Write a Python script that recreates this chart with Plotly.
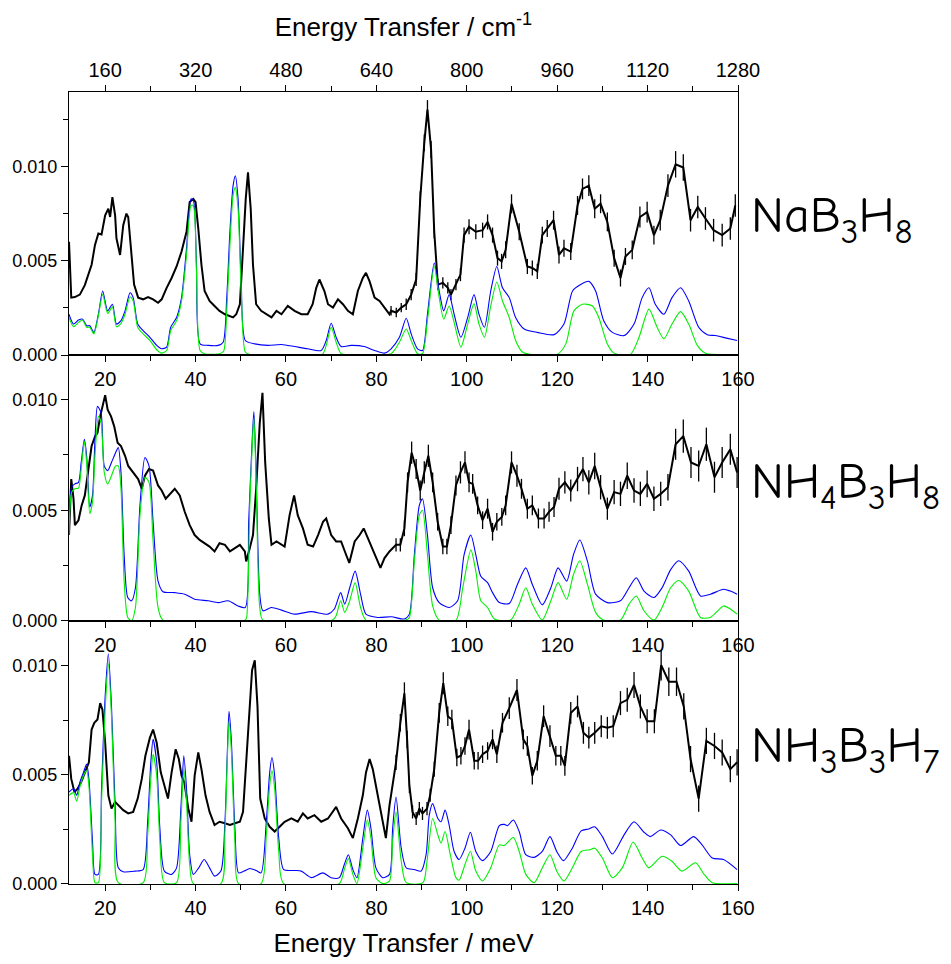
import numpy as np
import plotly.graph_objects as go

# ---------------- axes / tick data ----------------
mev_ticks = [20, 40, 60, 80, 100, 120, 140, 160]
mev_minor = [30, 50, 70, 90, 110, 130, 150]
cm_ticks = [160, 320, 480, 640, 800, 960, 1120, 1280]
cm_minor = [240, 400, 560, 720, 880, 1040, 1200]
y_ticks = [0.0, 0.005, 0.010]
y_minor = [0.0025, 0.0075, 0.0125]
labels = ["NaB<sub>3</sub>H<sub>8</sub>", "NH<sub>4</sub>B<sub>3</sub>H<sub>8</sub>",
          "NH<sub>3</sub>B<sub>3</sub>H<sub>7</sub>"]

# ---------------- NaB3H8 (values in 1e-3) ----------------
na_lo_x = [12.0, 12.5, 13.3, 14.4, 15.5, 16.3, 17.0, 17.75, 18.5, 19.2,
           20.0, 20.7, 21.1, 21.6, 22.2, 22.5, 23.3, 24.0, 24.7, 25.1,
           25.8, 26.4, 27.3, 28.4, 29.5, 30.6, 31.7, 32.5, 33.6, 34.7,
           35.8, 36.9, 38.0, 38.7, 39.5, 40.0, 40.6, 41.3, 42.0, 43.1,
           44.2, 45.3, 46.5, 47.6, 48.3, 49.0, 49.8, 50.5, 51.1, 51.6,
           52.2, 52.7, 53.4, 54.5, 55.6, 56.8, 57.9, 59.0, 60.4, 61.9,
           63.4, 64.8, 65.9, 66.7, 67.4, 68.5, 69.3, 70.4, 71.5, 72.6,
           73.7, 74.8, 75.9, 77.0, 77.7, 78.5, 79.6, 80.7, 81.8, 82.9]
na_lo_y = [6.0, 3.04, 3.07, 3.2, 3.7, 4.26, 4.78, 5.83, 6.44, 6.39,
           7.4, 7.75, 7.31, 8.36, 7.4, 6.18, 5.3, 6.88, 7.49, 7.31,
           5.13, 3.73, 3.04, 2.95, 3.07, 2.95, 2.77, 2.95, 3.56, 4.08,
           4.69, 5.48, 6.53, 8.1, 8.27, 8.1, 6.7, 4.78, 3.39, 2.86,
           2.6, 2.34, 2.16, 2.08, 1.99, 2.16, 2.69, 5.65, 8.27, 9.67,
           7.75, 4.78, 2.69, 2.34, 2.16, 1.99, 2.34, 2.16, 2.6, 2.34,
           2.16, 2.16, 2.69, 3.56, 4.0, 3.39, 2.69, 2.51, 2.95, 2.69,
           2.34, 2.16, 3.39, 4.08, 4.35, 3.9, 3.04, 2.86, 2.51, 2.16]
na_hi_x = [83.25, 84.4, 85.5, 86.6, 87.7, 88.8, 89.7, 90.6, 91.3, 92.1,
           92.8, 93.6, 94.7, 95.8, 96.5, 97.6, 98.6, 99.4, 100.5, 102.0,
           103.5, 104.6, 105.7, 106.8, 107.7, 108.6, 109.9, 111.6, 113.4, 114.5,
           115.6, 116.7, 117.8, 119.2, 120.4, 121.5, 123.0, 124.5, 125.6, 127.0,
           128.3, 129.6, 131.1, 132.6, 134.0, 135.1, 136.6, 138.3, 139.9, 141.4,
           142.8, 144.5, 146.2, 147.9, 149.5, 151.1, 152.8, 154.6, 156.5, 158.3,
           159.4]
na_hi_y = [2.34, 2.25, 2.51, 2.69, 3.2, 4.0, 8.27, 11.24, 13.0, 10.89,
           6.53, 3.73, 3.82, 3.56, 3.2, 3.73, 4.26, 6.35, 6.79, 6.53,
           6.61, 7.05, 6.35, 5.13, 4.96, 5.57, 8.01, 6.53, 4.69, 4.61,
           4.43, 6.35, 6.7, 7.14, 5.3, 5.65, 5.48, 7.92, 8.8, 8.97,
           7.75, 8.01, 7.05, 5.13, 4.08, 5.22, 5.57, 7.31, 7.57, 6.35,
           7.14, 8.97, 10.1, 9.93, 7.14, 7.84, 7.23, 6.61, 6.35, 6.7,
           7.92]
na_hi_err = [0.25, 0.25, 0.25, 0.3, 0.3, 0.35, 0.4, 0.45, 0.5, 0.45,
             0.35, 0.3, 0.3, 0.3, 0.3, 0.3, 0.35, 0.4, 0.4, 0.4,
             0.4, 0.4, 0.4, 0.4, 0.4, 0.45, 0.5, 0.45, 0.4, 0.4,
             0.4, 0.45, 0.45, 0.5, 0.45, 0.45, 0.45, 0.5, 0.55, 0.55,
             0.5, 0.5, 0.5, 0.45, 0.45, 0.45, 0.5, 0.55, 0.55, 0.5,
             0.55, 0.6, 0.7, 0.7, 0.6, 0.6, 0.6, 0.6, 0.6, 0.6,
             0.6]
na_blue_x = [12.0, 13.0, 14.1, 15.0, 15.9, 16.6, 17.5, 18.5, 19.45, 20.55,
             21.6, 22.5, 23.5, 24.4, 25.5, 26.2, 27.2, 28.4, 29.9, 31.4,
             32.5, 33.6, 34.5, 35.8, 36.9, 38.0, 39.0, 39.5, 40.2, 41.0,
             42.8, 45.0, 46.1, 46.9, 47.6, 48.3, 48.8, 49.4, 50.1, 51.0,
             53.1, 56.0, 59.0, 61.9, 64.8, 67.8, 68.9, 70.0, 71.1, 72.2,
             74.4, 77.3, 79.6, 81.8, 83.25, 85.1, 86.6, 87.7, 89.1, 90.2,
             91.3, 92.8, 93.9, 94.9, 96.1, 97.2, 98.7, 100.2, 101.6, 102.7,
             103.9, 105.3, 106.65, 107.9, 109.4, 110.8, 112.7, 115.6, 119.3, 121.5,
             123.4, 125.2, 127.0, 128.5, 130.3, 132.2, 134.8, 137.0, 138.8, 140.3,
             141.7, 143.6, 145.4, 147.3, 149.1, 151.3, 153.2, 155.0, 157.2, 159.8]
na_blue_y = [2.16, 1.64, 1.85, 1.9, 1.55, 1.55, 1.2, 2.16, 3.39, 2.34,
             2.69, 1.64, 1.82, 2.34, 3.3, 3.04, 1.64, 1.29, 0.94, 0.51,
             0.33, 0.42, 1.47, 1.99, 3.04, 5.65, 8.27, 8.2, 4.78, 0.59,
             0.51, 0.51, 0.68, 3.04, 6.53, 8.97, 9.49, 8.27, 3.9, 0.77,
             0.59, 0.51, 0.56, 0.45, 0.33, 0.24, 0.77, 1.68, 0.94, 0.45,
             0.51, 0.45, 0.24, 0.1, 0.33, 0.94, 1.95, 1.12, 0.33, 0.24,
             2.16, 4.87, 3.39, 2.34, 3.2, 2.16, 0.94, 1.99, 3.2, 2.16,
             1.47, 3.39, 4.69, 3.56, 3.04, 1.99, 1.38, 1.2, 1.08, 1.64,
             3.39, 3.73, 3.9, 3.39, 1.82, 1.2, 1.03, 1.64, 3.04, 3.56,
             2.69, 2.16, 3.04, 3.56, 2.86, 1.47, 1.08, 1.03, 0.91, 0.77]
na_green_x = [12.0, 13.0, 14.1, 15.0, 15.9, 16.6, 17.5, 18.5, 19.45, 20.55,
              21.6, 22.5, 23.5, 24.4, 25.5, 26.2, 27.2, 28.4, 29.9, 31.4,
              32.5, 33.6, 34.5, 35.8, 36.9, 38.0, 39.0, 39.5, 40.2, 41.0,
              42.0, 45.3, 46.2, 46.9, 47.6, 48.3, 48.8, 49.4, 50.1, 51.0,
              52.0, 68.0, 68.9, 70.0, 71.1, 72.2, 75.0, 83.25, 85.1, 86.6,
              87.7, 89.1, 90.2, 91.3, 92.8, 93.9, 94.9, 96.1, 97.2, 98.7,
              100.2, 101.6, 102.7, 103.9, 105.3, 106.65, 107.9, 109.4, 110.8, 112.3,
              114.2, 120.0, 121.9, 123.7, 125.6, 127.8, 129.2, 131.1, 132.6, 136.2,
              138.1, 140.3, 142.1, 143.6, 145.4, 147.3, 149.1, 151.0, 152.8, 159.8]
na_green_y = [1.99, 1.5, 1.73, 1.85, 1.47, 1.47, 1.12, 2.08, 3.21, 2.2,
              2.55, 1.5, 1.68, 2.16, 3.07, 2.86, 1.47, 1.12, 0.77, 0.28,
              0.1, 0.24, 1.29, 1.82, 2.86, 5.3, 7.92, 7.92, 4.43, 0.24,
              0.07, 0.07, 0.2, 2.34, 5.83, 8.45, 8.88, 7.75, 3.39, 0.16,
              0.03, 0.03, 0.51, 1.47, 0.68, 0.07, 0.03, 0.07, 0.68, 1.38,
              0.77, 0.07, 0.07, 1.82, 4.69, 3.04, 1.9, 2.6, 1.73, 0.42,
              1.64, 2.72, 1.64, 0.94, 2.6, 3.87, 2.86, 1.99, 0.77, 0.16,
              0.03, 0.03, 0.59, 2.34, 2.69, 2.6, 1.99, 0.59, 0.1, 0.03,
              0.94, 2.43, 1.47, 0.86, 1.64, 2.3, 1.64, 0.51, 0.1, 0.03]

# ---------------- NH4B3H8 ----------------
nh4_lo_x = [12.0, 12.5, 13.0, 13.3, 14.1, 14.8, 15.5, 16.3, 17.0, 17.8,
            18.3, 18.9, 19.4, 20.0, 20.55, 21.3, 22.0, 22.75, 23.5, 24.4,
            25.1, 26.2, 27.3, 28.1, 28.8, 29.7, 30.6, 31.7, 32.5, 33.4,
            34.3, 35.4, 36.5, 37.6, 38.7, 39.8, 40.9, 42.0, 43.1, 44.2,
            45.3, 46.5, 47.6, 48.7, 49.8, 50.9, 51.2, 52.0, 52.7, 53.4,
            54.2, 54.8, 55.4, 56.2, 56.8, 57.9, 59.0, 59.7, 60.8, 61.8,
            62.6, 63.75, 64.8, 66.0, 67.1, 68.2, 68.9, 70.0, 71.1, 72.2,
            73.3, 74.0, 75.2, 76.3, 77.2, 78.1, 79.2, 80.3, 80.9, 81.8,
            82.9]
nh4_lo_y = [3.88, 6.41, 5.52, 4.33, 4.55, 5.22, 5.67, 7.0, 7.9, 8.35,
            8.5, 9.24, 9.69, 10.2, 9.54, 9.24, 8.79, 8.05, 7.9, 7.46,
            7.0, 6.71, 6.41, 5.97, 6.56, 6.86, 6.79, 6.12, 5.89, 5.52,
            5.74, 5.97, 5.67, 4.93, 4.33, 3.88, 3.66, 3.51, 3.36, 3.14,
            3.51, 3.44, 3.14, 3.29, 3.44, 3.14, 2.69, 3.29, 3.88, 5.97,
            8.94, 10.3, 7.16, 4.63, 3.44, 3.59, 3.44, 3.36, 4.78, 5.67,
            4.78, 4.18, 3.44, 3.36, 3.88, 4.48, 4.63, 3.88, 3.59, 3.59,
            2.99, 2.62, 3.59, 3.88, 4.18, 3.74, 3.14, 2.69, 2.4, 2.84,
            3.14]
nh4_hi_x = [84.35, 85.3, 86.2, 86.9, 87.8, 88.8, 89.7, 90.6, 91.5, 92.45,
            93.55, 94.7, 95.6, 96.5, 97.6, 98.6, 99.6, 100.5, 101.3, 102.4,
            103.5, 104.6, 105.7, 106.65, 107.75, 108.6, 109.9, 111.1, 112.1, 113.4,
            114.5, 115.85, 117.1, 118.2, 119.3, 120.4, 121.7, 123.0, 124.5, 125.7,
            127.0, 128.3, 129.6, 131.1, 132.6, 134.0, 135.5, 137.0, 138.4, 139.9,
            141.4, 142.9, 144.5, 146.2, 147.9, 149.6, 151.3, 153.0, 154.8, 156.5,
            158.3, 159.8]
nh4_hi_y = [3.44, 3.44, 4.18, 6.26, 7.6, 6.86, 5.89, 6.71, 7.46, 6.26,
            4.48, 3.36, 3.36, 4.33, 6.12, 6.71, 7.16, 6.26, 6.19, 5.22,
            4.55, 5.07, 4.03, 4.48, 4.7, 5.22, 7.16, 6.56, 5.97, 5.07,
            5.22, 4.63, 4.63, 4.93, 5.15, 5.97, 6.26, 5.89, 6.41, 6.86,
            6.26, 7.0, 6.04, 5.07, 5.82, 5.74, 6.56, 5.89, 5.74, 6.19,
            5.52, 5.74, 6.04, 7.98, 8.35, 7.16, 7.0, 7.98, 6.49, 7.16,
            7.75, 6.71]
nh4_hi_err = [0.3, 0.3, 0.35, 0.45, 0.5, 0.45, 0.45, 0.5, 0.5, 0.45,
              0.4, 0.35, 0.35, 0.4, 0.45, 0.5, 0.5, 0.45, 0.45, 0.4,
              0.4, 0.45, 0.4, 0.4, 0.4, 0.45, 0.5, 0.5, 0.45, 0.45,
              0.45, 0.45, 0.45, 0.45, 0.45, 0.5, 0.5, 0.5, 0.55, 0.55,
              0.55, 0.6, 0.55, 0.5, 0.55, 0.55, 0.6, 0.55, 0.55, 0.6,
              0.55, 0.55, 0.6, 0.7, 0.75, 0.7, 0.7, 0.75, 0.7, 0.7,
              0.7, 0.7]
nh4_blue_x = [12.0, 12.6, 13.3, 14.1, 14.7, 15.4, 15.9, 16.6, 17.2, 17.75,
              18.3, 19.1, 19.8, 20.55, 21.4, 22.3, 22.9, 23.5, 24.2, 25.0,
              25.85, 26.7, 27.7, 28.8, 29.7, 30.6, 31.7, 32.8, 35.4, 37.6,
              39.8, 42.8, 45.0, 47.2, 49.4, 51.0, 51.75, 52.5, 52.9, 53.4,
              54.2, 54.9, 56.75, 59.0, 61.9, 65.6, 69.3, 70.7, 72.1, 73.0,
              74.1, 75.3, 76.5, 77.7, 80.3, 83.3, 86.2, 87.3, 88.4, 89.5,
              90.2, 91.3, 92.45, 93.9, 96.1, 97.97, 99.4, 100.9, 102.0, 103.1,
              104.6, 105.7, 107.2, 109.4, 111.2, 113.05, 114.5, 116.7, 118.6, 120.2,
              122.1, 123.6, 125.0, 126.7, 128.5, 131.1, 134.0, 135.9, 137.5, 139.2,
              141.4, 143.2, 145.1, 146.9, 149.1, 151.7, 153.9, 156.8, 158.3, 159.8]
nh4_blue_y = [4.03, 6.04, 6.19, 6.26, 7.16, 8.2, 7.46, 5.15, 5.67, 8.2,
              9.69, 9.39, 7.0, 6.79, 7.16, 7.6, 7.83, 6.71, 2.99, 1.06,
              0.91, 1.5, 5.22, 7.38, 7.0, 4.48, 1.8, 1.32, 1.28, 1.21,
              0.98, 0.91, 0.83, 0.91, 0.68, 0.61, 4.48, 8.05, 9.46, 6.71,
              1.21, 0.46, 0.61, 0.49, 0.31, 0.42, 0.31, 0.54, 1.28, 0.76,
              1.5, 2.25, 1.21, 0.31, 0.16, 0.19, 0.09, 0.31, 2.99, 5.22,
              5.52, 3.88, 1.5, 0.83, 0.61, 0.91, 2.99, 3.88, 2.99, 2.02,
              1.73, 1.28, 0.83, 0.79, 1.65, 2.4, 1.65, 0.73, 1.5, 2.4,
              1.8, 2.99, 3.66, 2.69, 1.21, 0.83, 0.91, 1.5, 1.95, 1.35,
              1.06, 1.5, 2.32, 2.72, 2.25, 1.13, 1.21, 1.43, 1.35, 1.21]
nh4_green_x = [12.0, 12.6, 13.3, 14.1, 14.7, 15.4, 15.9, 16.6, 17.2, 17.75,
               18.5, 19.1, 19.8, 20.55, 21.4, 22.3, 22.9, 23.5, 24.2, 25.0,
               25.85, 26.7, 27.7, 28.8, 29.7, 30.6, 31.7, 32.8, 51.0, 51.3,
               52.0, 52.5, 52.9, 53.4, 54.2, 54.9, 70.3, 71.1, 72.1, 73.0,
               74.1, 75.3, 76.5, 77.7, 86.5, 87.3, 88.4, 89.5, 90.2, 91.3,
               92.45, 93.9, 97.6, 99.1, 100.9, 102.0, 103.1, 104.6, 106.1, 109.7,
               111.6, 113.05, 114.5, 116.7, 118.6, 120.2, 122.1, 123.6, 125.0, 126.7,
               128.5, 130.3, 134.0, 135.9, 137.5, 139.2, 141.4, 143.2, 145.1, 146.9,
               149.1, 151.7, 153.9, 156.8, 158.3, 159.8]
nh4_green_y = [3.88, 5.82, 5.97, 6.0, 6.86, 8.13, 7.16, 4.85, 5.37, 7.46,
               9.24, 8.94, 6.71, 6.19, 6.56, 7.0, 7.0, 5.97, 1.8, 0.16,
               0.01, 0.61, 4.78, 6.49, 6.26, 3.59, 0.61, 0.04, 0.04, 0.16,
               5.22, 7.75, 9.17, 6.26, 0.61, 0.04, 0.04, 0.24, 0.91, 0.39,
               0.91, 1.73, 0.61, 0.04, 0.04, 0.16, 2.69, 4.78, 5.0, 2.99,
               0.68, 0.04, 0.04, 1.5, 3.21, 2.25, 0.91, 0.61, 0.09, 0.04,
               0.76, 1.5, 0.76, 0.04, 0.91, 1.73, 0.98, 2.1, 2.72, 1.65,
               0.39, 0.04, 0.04, 0.76, 1.13, 0.46, 0.04, 0.61, 1.5, 1.83,
               1.35, 0.16, 0.16, 0.68, 0.54, 0.31]

# ---------------- NH3B3H7 ----------------
nh3_lo_x = [12.0, 12.5, 13.2, 13.9, 14.7, 15.5, 16.4, 17.0, 17.6, 18.3,
            18.9, 19.4, 20.0, 20.7, 21.4, 22.2, 23.05, 24.0, 25.1, 26.2,
            27.2, 28.1, 28.9, 29.9, 30.6, 31.4, 32.3, 33.2, 33.9, 34.7,
            35.6, 36.3, 36.9, 37.5, 38.4, 39.1, 39.8, 40.6, 41.3, 42.2,
            43.1, 44.2, 45.3, 46.5, 47.6, 48.7, 49.8, 50.5, 51.2, 52.0,
            52.5, 53.1, 53.7, 54.3, 55.3, 56.4, 57.5, 58.6, 59.7, 61.2,
            62.6, 63.75, 64.8, 66.3, 67.8, 69.3, 70.4, 71.1, 72.2, 73.7,
            74.8, 75.9, 77.0, 77.7, 78.5, 79.2, 80.3, 81.2, 82.1, 82.9]
nh3_lo_y = [5.87, 4.81, 4.21, 4.36, 4.66, 5.11, 5.57, 7.07, 7.38, 7.53,
            8.28, 7.98, 6.47, 4.06, 3.45, 3.76, 3.6, 3.38, 3.23, 3.3,
            3.91, 4.81, 5.87, 6.7, 7.07, 6.47, 5.11, 4.36, 3.91, 5.11,
            6.17, 5.72, 4.96, 4.66, 3.45, 2.85, 4.96, 6.02, 5.26, 4.06,
            3.3, 2.7, 2.85, 2.78, 2.7, 2.78, 2.85, 3.3, 5.57, 8.13,
            9.79, 10.24, 8.13, 3.91, 3.0, 2.62, 2.4, 2.62, 2.85, 3.0,
            2.85, 3.23, 3.0, 3.15, 2.85, 3.0, 3.3, 3.53, 3.0, 2.55,
            2.1, 3.0, 4.06, 5.11, 5.72, 5.26, 4.06, 3.15, 2.1, 3.6]
nh3_hi_x = [84.35, 85.3, 86.2, 86.8, 87.3, 88.0, 88.8, 89.5, 90.2, 91.2,
            91.9, 92.8, 93.9, 94.8, 95.8, 96.7, 97.8, 98.7, 99.6, 100.5,
            101.65, 102.5, 103.5, 104.6, 105.7, 106.65, 107.9, 109.4, 111.1, 112.5,
            113.4, 114.5, 115.6, 117.0, 118.4, 119.7, 120.8, 121.7, 123.0, 124.5,
            125.8, 127.0, 128.3, 129.75, 131.1, 132.4, 134.0, 135.5, 137.0, 138.4,
            139.9, 141.5, 143.0, 144.7, 146.4, 148.0, 149.5, 151.3, 153.0, 154.8,
            156.5, 158.3, 159.8]
nh3_hi_y = [5.57, 7.38, 8.73, 6.61, 4.51, 3.3, 3.0, 3.45, 3.23, 3.45,
            4.06, 5.26, 7.83, 9.19, 7.68, 7.53, 5.79, 5.87, 6.32, 7.07,
            5.64, 5.64, 5.94, 6.09, 6.62, 5.94, 7.38, 8.05, 8.88, 6.62,
            6.32, 4.96, 5.64, 7.68, 6.77, 5.87, 5.87, 5.41, 7.83, 8.13,
            6.92, 6.7, 6.92, 7.22, 7.15, 7.22, 8.28, 8.43, 9.11, 8.13,
            7.45, 7.45, 10.02, 9.26, 9.26, 8.13, 5.72, 3.91, 6.55, 6.32,
            6.02, 5.26, 5.57]
nh3_hi_err = [0.35, 0.4, 0.5, 0.4, 0.35, 0.3, 0.3, 0.3, 0.3, 0.3,
              0.3, 0.35, 0.45, 0.5, 0.45, 0.45, 0.4, 0.4, 0.4, 0.45,
              0.4, 0.4, 0.4, 0.4, 0.45, 0.4, 0.45, 0.5, 0.5, 0.45,
              0.45, 0.4, 0.45, 0.5, 0.5, 0.45, 0.45, 0.45, 0.5, 0.5,
              0.5, 0.5, 0.5, 0.5, 0.5, 0.5, 0.55, 0.55, 0.6, 0.55,
              0.55, 0.55, 0.7, 0.65, 0.65, 0.6, 0.6, 0.6, 0.6, 0.6,
              0.6, 0.6, 0.6]
nh3_blue_x = [12.0, 13.0, 13.7, 14.4, 15.2, 15.9, 16.4, 17.2, 17.75, 18.5,
              19.2, 20.0, 20.7, 21.4, 22.2, 22.9, 24.0, 26.6, 28.4, 29.4,
              30.1, 30.6, 31.4, 32.1, 33.1, 34.7, 35.8, 36.75, 37.4, 38.0,
              38.7, 39.5, 40.7, 41.9, 43.1, 44.2, 45.6, 46.5, 47.0, 47.4,
              47.9, 48.7, 49.5, 50.7, 52.0, 53.4, 54.5, 55.65, 56.4, 56.9,
              57.5, 58.4, 59.5, 61.9, 63.4, 65.6, 68.2, 70.0, 71.8, 72.9,
              73.8, 74.8, 75.7, 77.0, 78.0, 78.8, 79.9, 81.4, 82.9, 83.6,
              84.35, 85.5, 86.6, 88.4, 89.9, 91.0, 91.7, 92.45, 93.6, 94.3,
              95.2, 96.1, 97.2, 98.3, 99.6, 100.8, 102.0, 103.5, 105.3, 107.2,
              108.3, 109.0, 110.3, 111.6, 113.05, 114.9, 116.7, 118.4, 119.9, 121.4,
              123.35, 125.3, 127.0, 128.3, 130.0, 132.2, 134.8, 137.0, 139.2, 140.6,
              142.9, 145.1, 147.3, 150.2, 152.05, 154.3, 156.8, 159.8]
nh3_blue_y = [4.21, 4.36, 4.06, 4.66, 5.11, 5.49, 4.81, 1.95, 0.44, 0.44,
              4.36, 8.58, 10.54, 8.13, 3.6, 0.74, 0.56, 0.59, 0.66, 2.85,
              5.57, 6.62, 5.57, 2.55, 0.59, 0.44, 0.74, 3.45, 5.87, 4.36,
              1.34, 0.44, 0.74, 1.12, 0.74, 0.36, 0.59, 2.85, 5.87, 7.9,
              6.62, 2.55, 0.51, 0.59, 0.71, 0.62, 0.51, 2.85, 5.11, 5.79,
              4.96, 2.1, 0.66, 0.62, 0.59, 0.29, 0.51, 0.29, 0.29, 0.89,
              1.34, 0.66, 0.29, 2.1, 3.38, 2.55, 0.74, 0.29, 0.44, 2.55,
              3.98, 1.64, 0.74, 0.66, 0.59, 1.34, 3.15, 3.68, 3.0, 2.85,
              3.38, 2.7, 1.49, 1.12, 1.64, 2.37, 1.49, 1.07, 1.49, 2.67,
              2.73, 2.67, 2.93, 2.4, 1.34, 1.22, 1.49, 2.17, 1.49, 1.07,
              1.64, 2.43, 2.52, 2.62, 2.17, 1.37, 2.25, 2.85, 2.37, 2.17,
              2.47, 2.25, 1.76, 2.17, 1.79, 1.19, 1.12, 0.66]
nh3_green_x = [12.0, 13.0, 13.7, 14.4, 15.2, 15.9, 16.4, 17.2, 17.75, 18.5,
               19.2, 20.0, 20.7, 21.4, 22.2, 22.9, 28.4, 29.4, 30.1, 30.6,
               31.4, 32.1, 33.1, 35.8, 36.75, 37.4, 38.0, 38.7, 39.5, 45.6,
               46.5, 47.0, 47.4, 47.9, 48.7, 49.5, 54.5, 55.65, 56.4, 56.9,
               57.5, 58.4, 59.5, 71.8, 72.9, 73.8, 74.8, 75.7, 77.0, 78.0,
               78.8, 79.9, 81.4, 82.9, 83.6, 84.35, 85.5, 86.6, 90.3, 91.2,
               92.45, 93.6, 94.3, 95.2, 96.35, 97.6, 98.3, 99.6, 100.8, 102.0,
               103.5, 105.3, 107.2, 108.3, 110.3, 111.6, 113.05, 114.9, 116.7, 118.4,
               119.9, 121.5, 123.35, 125.3, 127.25, 128.3, 130.0, 132.2, 134.4, 136.8,
               138.8, 140.3, 143.2, 145.4, 147.6, 150.6, 152.4, 154.3, 159.8]
nh3_green_y = [4.06, 4.18, 3.79, 4.43, 4.96, 5.19, 4.51, 1.34, 0.06, 0.06,
               3.76, 7.98, 10.09, 7.68, 2.85, 0.06, 0.06, 2.25, 4.81, 5.94,
               4.96, 1.95, 0.06, 0.06, 2.85, 5.26, 3.76, 0.89, 0.02, 0.02,
               2.4, 5.57, 7.45, 6.17, 1.95, 0.02, 0.02, 2.25, 4.51, 5.19,
               4.36, 1.49, 0.02, 0.02, 0.66, 1.16, 0.44, 0.02, 1.64, 2.93,
               2.1, 0.29, 0.02, 0.14, 1.95, 3.3, 1.04, 0.06, 0.06, 1.04,
               3.0, 2.25, 1.87, 2.4, 1.34, 0.29, 0.17, 0.89, 1.49, 0.59,
               0.14, 0.74, 1.79, 1.76, 2.13, 1.49, 0.44, 0.06, 0.74, 1.34,
               0.59, 0.14, 0.74, 1.49, 1.57, 1.64, 1.19, 0.29, 0.74, 1.92,
               1.19, 0.74, 1.27, 1.04, 0.59, 0.97, 0.47, 0.06, 0.02]

# ---------------- build figure ----------------
S = 1e-3
panels = [
    (na_lo_x, na_lo_y, na_hi_x, na_hi_y, na_hi_err, na_blue_x, na_blue_y, na_green_x, na_green_y),
    (nh4_lo_x, nh4_lo_y, nh4_hi_x, nh4_hi_y, nh4_hi_err, nh4_blue_x, nh4_blue_y, nh4_green_x, nh4_green_y),
    (nh3_lo_x, nh3_lo_y, nh3_hi_x, nh3_hi_y, nh3_hi_err, nh3_blue_x, nh3_blue_y, nh3_green_x, nh3_green_y),
]
axes = [("x", "y"), ("x2", "y2"), ("x3", "y3")]

fig = go.Figure()
for (lox, loy, hix, hiy, hie, bx, by, gx, gy), (xa, ya) in zip(panels, axes):
    ex = list(lox) + list(hix)
    ey = np.array(list(loy) + list(hiy)) * S
    ee = np.array([0.0] * len(lox) + list(hie)) * S
    fig.add_trace(go.Scatter(x=ex, y=ey, xaxis=xa, yaxis=ya, mode="lines",
                             line=dict(color="black", width=2),
                             error_y=dict(type="data", array=ee, visible=True,
                                          color="black", thickness=1.3, width=0),
                             showlegend=False, hoverinfo="skip"))
    fig.add_trace(go.Scatter(x=bx, y=np.array(by) * S, xaxis=xa, yaxis=ya, mode="lines",
                             line=dict(color="#0000ff", width=1.1, shape="spline", smoothing=0.7),
                             showlegend=False, hoverinfo="skip"))
    fig.add_trace(go.Scatter(x=gx, y=np.array(gy) * S, xaxis=xa, yaxis=ya, mode="lines",
                             line=dict(color="#00ee00", width=1.1, shape="spline", smoothing=0.7),
                             showlegend=False, hoverinfo="skip"))

# invisible helper trace so the secondary (cm-1) top axis is rendered
fig.add_trace(go.Scatter(x=cm_ticks, y=[0] * len(cm_ticks), xaxis="x4", yaxis="y",
                         mode="markers", marker=dict(opacity=0, size=1),
                         showlegend=False, hoverinfo="skip"))

FONT = "Liberation Sans, Arial, sans-serif"
xtickfont = dict(family=FONT, size=20, color="black")
ytickfont = dict(family=FONT, size=18, color="black")

def xax(anchor, show_title=False):
    d = dict(anchor=anchor, range=[12, 160], tickmode="array", tickvals=mev_ticks,
             ticktext=[str(v) for v in mev_ticks], ticks="outside", ticklen=6,
             tickwidth=1.2, tickcolor="black", showline=True, linecolor="black",
             linewidth=1.3, mirror=True, showgrid=False, zeroline=False,
             tickfont=xtickfont,
             minor=dict(tickmode="array", tickvals=mev_minor, ticks="outside",
                        ticklen=5, tickwidth=1.2, tickcolor="black"))
    if show_title:
        d["title"] = dict(text="Energy Transfer / meV", standoff=15,
                          font=dict(family=FONT, size=26, color="black"))
    return d

def yax(anchor, dom, top):
    return dict(anchor=anchor, domain=dom, range=[0, top], tickmode="array",
                tickvals=y_ticks, ticktext=["%.3f" % v for v in y_ticks],
                ticks="outside", ticklen=7, tickwidth=1.2, tickcolor="black",
                showline=True, linecolor="black", linewidth=1.3, mirror=True,
                showgrid=False, zeroline=False, tickfont=ytickfont,
                minor=dict(tickmode="array", tickvals=y_minor, ticks="outside",
                           ticklen=5, tickwidth=1.2, tickcolor="black"))

fig.update_layout(
    width=951, height=964, autosize=False,
    margin=dict(l=67, r=213, t=92, b=71),
    plot_bgcolor="white", paper_bgcolor="white",
    xaxis=xax("y"),
    xaxis2=xax("y2"),
    xaxis3=xax("y3", show_title=True),
    xaxis4=dict(overlaying="x", side="top", anchor="y", range=[96, 1280],
                tickmode="array", tickvals=cm_ticks, ticktext=[str(v) for v in cm_ticks],
                ticks="outside", ticklen=6, tickwidth=1.2, tickcolor="black",
                showline=True, linecolor="black", linewidth=1.3, showgrid=False,
                zeroline=False, tickfont=xtickfont,
                minor=dict(tickmode="array", tickvals=cm_minor, ticks="outside",
                           ticklen=5, tickwidth=1.2, tickcolor="black"),
                title=dict(text="Energy Transfer / cm<sup>-1</sup>", standoff=14,
                           font=dict(family=FONT, size=26, color="black"))),
    yaxis=yax("x", [0.6679, 1.0], 0.01393),
    yaxis2=yax("x2", [0.3321, 0.6679], 0.01201),
    yaxis3=yax("x3", [0.0, 0.3321], 0.01204),
)

label_y = [0.839, 0.503, 0.170]
for txt, yy in zip(labels, label_y):
    fig.add_annotation(text=txt, xref="paper", yref="paper", x=1.016, y=yy,
                       xanchor="left", yanchor="middle", showarrow=False,
                       font=dict(family="Comic Sans MS, Comic Neue, Noto Sans, sans-serif",
                                 size=50, color="black"))

fig.write_html("out.html")
